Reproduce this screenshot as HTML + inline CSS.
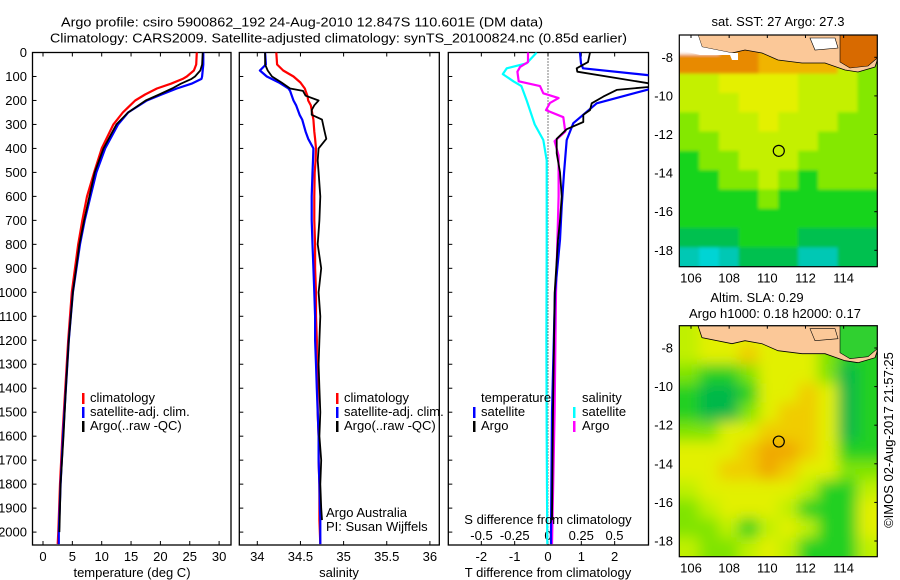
<!DOCTYPE html>
<html><head><meta charset="utf-8"><style>
html,body{margin:0;padding:0;background:#fff;}
svg{display:block;font-family:"Liberation Sans",sans-serif;}
text{font-size:13px;fill:#000;}
</style></head><body>
<svg id="fig" width="900" height="580" viewBox="0 0 900 580" xmlns="http://www.w3.org/2000/svg">
<defs>
<clipPath id="c1"><rect x="32.5" y="52.5" width="198.5" height="492.5"/></clipPath>
<clipPath id="c2"><rect x="239.3" y="52.5" width="200" height="492.5"/></clipPath>
<clipPath id="c3"><rect x="448.3" y="52.5" width="200.2" height="492.5"/></clipPath>
<clipPath id="cm1"><rect x="679.3" y="35" width="198" height="231.7"/></clipPath>
<clipPath id="cm2"><rect x="679.3" y="325.7" width="198" height="231"/></clipPath>
<filter id="bl1" x="-5%" y="-5%" width="110%" height="110%"><feGaussianBlur stdDeviation="1.5"/></filter>
<filter id="bl2" x="-5%" y="-5%" width="110%" height="110%"><feGaussianBlur stdDeviation="7"/></filter>
</defs>
<text x="61" y="26.5" textLength="482" lengthAdjust="spacingAndGlyphs">Argo profile: csiro 5900862_192 24-Aug-2010 12.847S 110.601E (DM data)</text>
<text x="50" y="42.5" textLength="577" lengthAdjust="spacingAndGlyphs">Climatology: CARS2009. Satellite-adjusted climatology: synTS_20100824.nc (0.85d earlier)</text>
<g id="g1"></g>
<g id="g2"></g>
<g id="g3"></g>
<g id="m1"></g>
<g id="m2"></g>
<text x="778" y="26" text-anchor="middle" font-size="12">sat. SST: 27 Argo: 27.3</text>
<text x="757" y="302" text-anchor="middle" font-size="12">Altim. SLA: 0.29</text>
<text x="775" y="318" text-anchor="middle" font-size="12">Argo h1000: 0.18 h2000: 0.17</text>
<text transform="translate(893,440) rotate(-90)" text-anchor="middle" font-size="12">©IMOS 02-Aug-2017 21:57:25</text>
</svg>
<script>
// ---------- data ----------
const tDepths = [0,50,75,100,110,130,150,175,200,250,300,400,500,600,700,800,1000,1200,1400,1600,1800,2000,2050];
const tClim   = [26.2,26.1,25.7,24.5,23.8,21.8,19.4,17.4,15.7,13.6,12,10,8.7,7.5,6.7,6.0,4.9,4.3,3.8,3.3,2.9,2.6,2.5];
const tSat    = [27.3,27.3,27.2,27.1,27.0,25.3,22.8,20.2,17.7,14.5,12.8,10.6,9.1,8.1,7.1,6.3,5.1,4.4,3.9,3.4,3.0,2.7,2.7];
const tArgo   = [27.2,27.1,26.8,25.9,25.3,23.5,22.0,19.8,17.5,14.5,12.5,10.3,8.8,7.9,7.0,6.2,5.1,4.4,3.9,3.5,3.0,2.8,null];
const sDepths = [0,50,75,100,125,150,160,180,200,220,240,260,280,330,360,400,450,500,600,700,800,900,1000,1100,1200,1300,1400,1500,1600,1700,1800,1900,1950,2050];
const sClim = [34.22,34.23,34.3,34.42,34.5,34.55,34.56,34.58,34.59,34.62,34.63,34.64,34.65,34.66,34.67,34.68,34.675,34.665,34.66,34.66,34.67,34.67,34.68,34.68,34.69,34.69,34.70,34.70,34.71,34.71,34.72,34.72,34.72,34.73];
const sSat  = [34.09,34.10,34.03,34.11,34.25,34.36,34.38,34.40,34.42,34.45,34.47,34.49,34.52,34.56,34.59,34.65,34.645,34.64,34.63,34.63,34.64,34.65,34.66,34.67,34.67,34.68,34.69,34.70,34.71,34.71,34.72,34.725,34.73,34.73];
const sArgo = [34.09,34.09,34.12,34.17,34.28,34.38,34.53,34.56,34.71,34.66,34.63,34.63,34.75,34.78,34.80,34.71,34.70,34.71,34.73,34.72,34.70,34.74,34.71,34.73,34.72,34.71,34.72,34.73,34.72,34.74,34.73,34.74,34.75,null];
const dtSatDepths = [0,45,66,94,100,140,156,212,295,365,503,642,781,1000,1500,2000,2050];
const dtSatVals   = [0.96,0.99,1.05,2.96,3.3,3.3,2.96,1.46,0.76,0.56,0.48,0.41,0.36,0.21,0.12,0.09,0.09];
const dtArgoDepths = [0,40,66,80,128,140,156,184,212,240,260,290,320,360,420,500,600,700,780,1000,1500,1950];
const dtArgoVals   = [1.26,1.2,0.86,0.88,3.0,3.3,2.06,1.66,1.31,1.26,1.06,1.06,0.56,0.26,0.26,0.36,0.41,0.36,0.3,0.2,0.15,0.12];
const dsSatDepths = [0,45,66,90,120,140,200,300,365,450,800,1200,1600,2050];
const dsSatVals   = [-0.085,-0.16,-0.31,-0.34,-0.26,-0.2,-0.16,-0.1,-0.035,-0.01,-0.01,-0.012,-0.01,-0.005];
const dsArgoDepths = [0,40,60,80,120,140,170,190,210,240,270,330,370,430,600,1000,1500,2050];
const dsArgoVals   = [-0.15,-0.15,-0.21,-0.23,-0.22,-0.06,-0.035,0.08,0.015,-0.015,0.115,0.13,0.05,0.08,0.08,0.06,0.05,0.03];
const depthTicks = [0,100,200,300,400,500,600,700,800,900,1000,1100,1200,1300,1400,1500,1600,1700,1800,1900,2000];
const tempTicks = [0,5,10,15,20,25,30];
const salTicks = [34,34.5,35,35.5,36];
const dtTicks = [-2,-1,0,1,2];
const dsTicks = [-0.5,-0.25,0,0.25,0.5];
const lonTicks = [106,108,110,112,114];
const latTicks = [-8,-10,-12,-14,-16,-18];
const argoLon = 110.601, argoLat = -12.847;
// map colour grids (rows = 1 deg lat from -6.85 southwards, cols ~1 deg lon)
const sstGrid = ["WWOOooooOO","OOOOooooyg","yyYYYYyyyg","yyyYYYyyyg","gyyyYyyygg","ggyyyyyggg","Gggyyygggg","GGggygGggg","GGGGgGGGGG","GGGGGGGGGG","TTTGGGTTTT","CcCTTTCCTT"];
const slaGrid = ["yYYYYyyggG","yYYoYYYgGG","gGGgYYYgTG","GTTGYYoYTG","GTTgYooYTG","ggYYoooYTG","YYYoOOoYGG","YYooOoYYgg","yYYYYYyGGy","gyYYYyGGGY","ggyGyYyGGY","yggyYyGGGy"];
const palette = {W:"#ffffff",O:"#e88a00",o:"#f0b400",Y:"#e4f000",y:"#c4f000",g:"#84e800",G:"#14d41c",T:"#00c050",C:"#00c8b4",c:"#00d4d4"};
const slaPalette = {O:"#f0a800",o:"#f0cc00",Y:"#e2f000",y:"#c0f000",g:"#80e400",G:"#20d020",T:"#00b848"};

// ---------- helpers ----------
const NS="http://www.w3.org/2000/svg";
function mk(tag, attrs, parent){const e=document.createElementNS(NS,tag);for(const k in attrs)e.setAttribute(k,attrs[k]);parent.appendChild(e);return e;}
const depthY = d => 52.5 + d*0.2398;
const tempX = t => 43 + t*5.87;
const salX = s => 257.3 + (s-34)*86.3;
const dTX = t => 548 + t*33.33;
const dSX = s => 548 + s*133;
const Y0=52.5, Y1=545;

function panel(g, x0, x1){
  const r = mk('rect',{x:x0,y:Y0,width:x1-x0,height:Y1-Y0,fill:'none',stroke:'#000','stroke-width':1.3},g);
  
  
  depthTicks.forEach(d=>{
    const t1 = mk('line',{x1:x0,x2:x0+4,y1:depthY(d),y2:depthY(d),stroke:'#000'},g);
    
    
  });
}
function line(g, clip, depths, vals, xf, color, w, name){
  let pts=[];
  for(let i=0;i<depths.length;i++){ if(vals[i]===null||vals[i]===undefined) continue; pts.push(xf(vals[i]).toFixed(1)+','+depthY(depths[i]).toFixed(1)); }
  const p = mk('polyline',{points:pts.join(' '),fill:'none',stroke:color,'stroke-width':w,'clip-path':'url(#'+clip+')','stroke-linejoin':'round'},g);
  
  
}
function xticks(g, ticks, xf, labY, fmt){
  ticks.forEach(v=>{
    const x=xf(v);
    const a=mk('line',{x1:x,x2:x,y1:Y1,y2:Y1-4,stroke:'#000'},g);
    
    
    const b=mk('line',{x1:x,x2:x,y1:Y0,y2:Y0+4,stroke:'#000'},g);
    
    
    const t=mk('text',{x:x,y:labY,'text-anchor':'middle','font-size':13},g);
    t.textContent = fmt? fmt(v): String(v);
    
    
  });
}
function txt(g,x,y,s,name,anchor,size){
  const t=mk('text',{x:x,y:y,'text-anchor':anchor||'start','font-size':size||13},g);
  t.textContent=s;
  
  
  return t;
}
function legBar(g,x,y,color,name){
  const r=mk('rect',{x:x,y:y,width:2.5,height:11,fill:color},g);
  
  
}

// ---------- panel 1 ----------
const g1=document.getElementById('g1');
panel(g1,32.5,231);
depthTicks.forEach(d=>{ txt(g1,27,depthY(d)+4.5,String(d),'depth-tick-label','end',12.5); });
xticks(g1,tempTicks,tempX,561);
line(g1,'c1',tDepths,tClim,tempX,'#ff0000',2.2,'temperature-climatology-line');
line(g1,'c1',tDepths,tSat,tempX,'#0000ff',2.2,'temperature-satellite-line');
line(g1,'c1',tDepths,tArgo,tempX,'#000000',1.8,'temperature-argo-line');
txt(g1,132,577,'temperature (deg C)','x-axis-title-temperature','middle');
legBar(g1,82,393,'#ff0000','legend-climatology-swatch'); txt(g1,90,402,'climatology','legend-climatology');
legBar(g1,82,407,'#0000ff','legend-satellite-swatch'); txt(g1,90,416,'satellite-adj. clim.','legend-satellite');
legBar(g1,82,421,'#000000','legend-argo-swatch'); txt(g1,90,430,'Argo(..raw -QC)','legend-argo');

// ---------- panel 2 ----------
const g2=document.getElementById('g2');
panel(g2,239.3,439.3);
xticks(g2,salTicks,salX,561);
line(g2,'c2',sDepths,sClim,salX,'#ff0000',2.2,'salinity-climatology-line');
line(g2,'c2',sDepths,sSat,salX,'#0000ff',2.2,'salinity-satellite-line');
line(g2,'c2',sDepths,sArgo,salX,'#000000',1.8,'salinity-argo-line');
txt(g2,339,577,'salinity','x-axis-title-salinity','middle');
legBar(g2,336,393,'#ff0000','legend-climatology-swatch'); txt(g2,344,402,'climatology','legend-climatology');
legBar(g2,336,407,'#0000ff','legend-satellite-swatch'); txt(g2,344,416,'satellite-adj. clim.','legend-satellite');
legBar(g2,336,421,'#000000','legend-argo-swatch'); txt(g2,344,430,'Argo(..raw -QC)','legend-argo');
txt(g2,326,517,'Argo Australia','credit-line-1','start',12.5);
txt(g2,326,531,'PI: Susan Wijffels','credit-line-2','start',12.5);

// ---------- panel 3 ----------
const g3=document.getElementById('g3');
panel(g3,448.3,648.5);
const zl=mk('line',{x1:548,x2:548,y1:Y0,y2:Y1,stroke:'#000','stroke-dasharray':'1,2'},g3);


xticks(g3,dtTicks,dTX,561);
dsTicks.forEach(v=>{
  const t=txt(g3,dSX(v),540,String(v),'s-tick-label','middle',13);
});
line(g3,'c3',dsSatDepths,dsSatVals,dSX,'#00ffff',2.2,'salinity-diff-satellite-line');
line(g3,'c3',dsArgoDepths,dsArgoVals,dSX,'#ff00ff',2.2,'salinity-diff-argo-line');
line(g3,'c3',dtSatDepths,dtSatVals,dTX,'#0000ff',2.2,'temperature-diff-satellite-line');
line(g3,'c3',dtArgoDepths,dtArgoVals,dTX,'#000000',1.8,'temperature-diff-argo-line');
txt(g3,548,577,'T difference from climatology','x-axis-title-t-diff','middle');
txt(g3,548,524,'S difference from climatology','x-axis-title-s-diff','middle');
txt(g3,481,402,'temperature','legend-temperature-header');
legBar(g3,473,407,'#0000ff','legend-t-satellite-swatch'); txt(g3,481,416,'satellite','legend-t-satellite');
legBar(g3,473,421,'#000000','legend-t-argo-swatch'); txt(g3,481,430,'Argo','legend-t-argo');
txt(g3,582,402,'salinity','legend-salinity-header');
legBar(g3,573,407,'#00ffff','legend-s-satellite-swatch'); txt(g3,582,416,'satellite','legend-s-satellite');
legBar(g3,573,421,'#ff00ff','legend-s-argo-swatch'); txt(g3,582,430,'Argo','legend-s-argo');

// ---------- maps ----------
function drawMap(id, top, bottom, grid, pal, clip, filt, landColorRight){
  const g=document.getElementById(id);
  const L=679.3, R=877.3;
  const lonX = lon => 691 + (lon-106)*19.08;
  const latY = lat => top + 22.3 + (-8-lat)*19.3;
  const cw=(R-L)/grid[0].length, ch=(bottom-top)/grid.length;
  const gg=mk('g',{'clip-path':'url(#'+clip+')'},g);
  const inner=mk('g',{filter:'url(#'+filt+')'},gg);
  const bg=mk('rect',{x:L-20,y:top-20,width:R-L+40,height:bottom-top+40,fill:pal.Y||'#e0f000'},inner);
  
  
  grid.forEach((row,r)=>{ for(let c=0;c<row.length;c++){
    const ext = (c===0?20:0), extR=(c===row.length-1?20:0), extT=(r===0?20:0), extB=(r===grid.length-1?20:0);
    const cell=mk('rect',{x:L+c*cw-ext,y:top+r*ch-extT,width:cw+0.6+ext+extR,height:ch+0.6+extT+extB,fill:pal[row[c]]||'#e0f000'},inner);
    
    
  }});
  const dy = top-35;
  const landPts=[[698,35],[702,47],[732,53],[745,50],[762,53],[778,60],[802,63],[825,63],[845,70],[858,72],[875,67],[877.3,60],[877.3,35]];
  const land=mk('polygon',{points:landPts.map(p=>p[0]+','+(p[1]+dy)).join(' '),fill:'#fbc898',stroke:'#000','stroke-width':0.8},gg);
  
  
  const rp=mk('polygon',{points:[[840,35],[877.3,35],[877.3,58],[868,66],[850,68],[840,62]].map(p=>p[0]+','+(p[1]+dy)).join(' '),fill:landColorRight,stroke:'#000','stroke-width':0.6},gg);
  
  
  const wl=mk('polygon',{points:[[810,38],[835,38],[838,48],[815,50]].map(p=>p[0]+','+(p[1]+dy)).join(' '),fill:id==='m1'?'#ffffff':'#fbc898',stroke:'#000','stroke-width':0.6},gg);
  
  
  if(id==='m1'){
    const w=mk('polygon',{points:'679.3,35 698,35 702,47 732,53 738,53 738,60 732,60 730,55 700,55 679.3,50',fill:'#ffffff'},gg);
    
    
  }
  const fr=mk('rect',{x:L,y:top,width:R-L,height:bottom-top,fill:'none',stroke:'#000','stroke-width':1.2},g);
  
  
  lonTicks.forEach(v=>{
    const x=lonX(v);
    const a=mk('line',{x1:x,x2:x,y1:top,y2:top+3,stroke:'#000'},g);
    
    
    const t=mk('text',{x:x,y:bottom+16,'text-anchor':'middle','font-size':13},g);
    t.textContent=String(v);
    
    
  });
  latTicks.forEach(v=>{
    const y=latY(v);
    const a=mk('line',{x1:R,x2:R-3,y1:y,y2:y,stroke:'#000'},g);
    
    
    const t=mk('text',{x:673,y:y+4.5,'text-anchor':'end','font-size':13},g);
    t.textContent=String(v);
    
    
  });
  const cir=mk('circle',{cx:lonX(argoLon),cy:latY(argoLat),r:5.5,fill:'none',stroke:'#000','stroke-width':1.2},g);
  
  
}
drawMap('m1',35,266.7,sstGrid,palette,'cm1','bl1','#d86a00');
drawMap('m2',325.7,556.7,slaGrid,slaPalette,'cm2','bl2','#30d030');
</script>
</body></html>
